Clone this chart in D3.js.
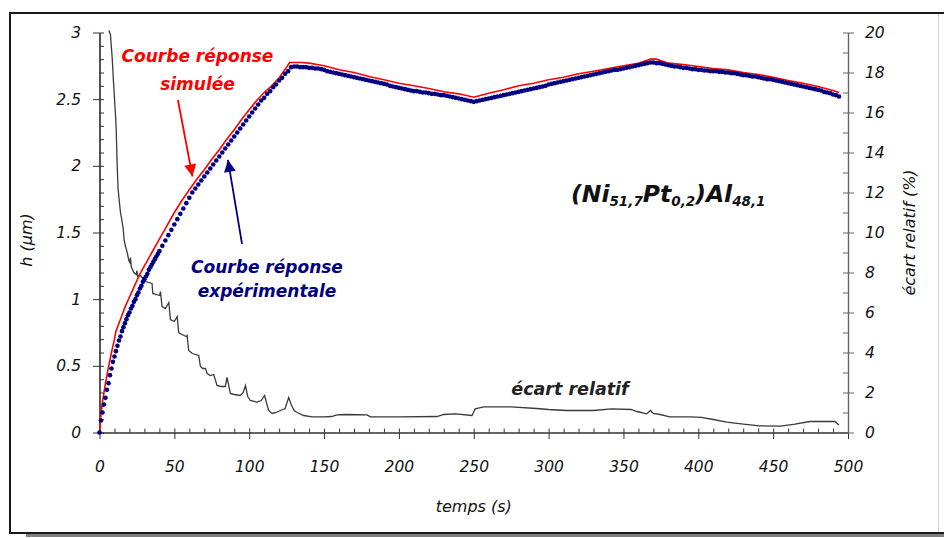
<!DOCTYPE html>
<html><head><meta charset="utf-8">
<script src="https://cdn.jsdelivr.net/npm/d3@7"></script>
<style>body{margin:0;background:#fff}svg{display:block}</style>
</head><body>
<svg id="chart" width="944" height="538"></svg>
<script>
// ---- Data ----
const expTime = [0,1,2,3,4,5,6,7,8,9,10,11,12,13,14,15,16,17,18,19,20,21,22,23,24,25,26,27,28,29,30,31,32,33,34,35,36,37,38,39,40,
42,44,46,48,50,52,54,56,58,60,62,64,66,68,70,72,74,76,78,80,82,84,86,88,90,92,94,96,98,
100,102,104,106,108,110,112,114,116,118,120,122,124,126,128,130,132,134,136,138,140,142,144,146,148,150,152,154,156,158,160,162,164,166,168,170,172,174,176,178,180,182,184,186,188,190,192,194,196,198,
200,202,204,206,208,210,212,214,216,218,220,222,224,226,228,230,232,234,236,238,240,242,244,246,248,250,252,254,256,258,260,262,264,266,268,270,272,274,276,278,280,282,284,286,288,290,292,294,296,298,
300,302,304,306,308,310,312,314,316,318,320,322,324,326,328,330,332,334,336,338,340,342,344,346,348,350,352,354,356,358,360,362,364,366,368,370,372,374,376,378,380,382,384,386,388,390,392,394,396,398,
400,402,404,406,408,410,412,414,416,418,420,422,424,426,428,430,432,434,436,438,440,442,444,446,448,450,452,454,456,458,460,462,464,466,468,470,472,474,476,478,480,482,484,486,488,490,492,494];
const expH = [0,0.09,0.15,0.21,0.26,0.32,0.37,0.43,0.48,0.53,0.57,0.61,0.65,0.69,0.72,0.76,0.79,0.82,0.85,0.88,0.90,0.93,0.95,0.98,1.00,1.03,1.05,1.08,1.10,1.13,1.15,1.17,1.19,1.22,1.24,1.26,1.28,1.30,1.32,1.34,1.36,
1.40,1.44,1.48,1.52,1.56,1.60,1.64,1.68,1.72,1.76,1.80,1.83,
1.86,1.89,1.92,1.95,1.98,2.01,2.04,2.07,2.10,2.13,2.16,2.19,2.22,2.25,2.28,2.31,2.34,2.37,
2.40,2.43,2.46,2.49,2.51,2.54,2.56,2.59,2.61,2.64,2.66,2.69,2.71,2.74,2.745,
2.745,2.74,2.74,2.74,2.735,2.735,2.73,2.73,2.725,2.72,2.71,2.705,2.70,2.695,2.69,2.685,2.68,2.675,2.67,2.665,
2.66,2.655,2.65,2.645,2.64,2.635,2.63,2.625,2.62,2.615,2.61,2.60,2.595,2.59,2.585,2.58,2.575,2.57,2.565,2.56,
2.56,2.555,2.55,2.55,2.545,2.54,2.54,2.535,2.53,2.53,2.525,2.52,2.515,2.51,2.505,2.50,2.495,2.49,2.485,2.48,
2.485,2.49,2.495,2.50,2.505,2.51,2.515,2.52,2.525,2.53,2.535,2.54,2.545,2.55,2.555,2.56,2.565,2.57,2.575,2.58,
2.585,2.59,2.595,2.60,2.61,2.615,2.62,2.625,2.63,2.635,2.64,2.645,2.65,2.655,2.66,2.665,2.67,2.675,2.68,2.685,
2.69,2.695,2.70,2.705,2.71,2.715,2.72,2.72,2.725,2.73,2.735,2.74,2.745,2.75,2.755,2.76,2.765,2.77,2.775,2.775,
2.77,2.77,2.765,2.76,2.755,2.75,2.745,2.745,2.74,2.735,2.735,2.73,2.725,2.725,2.72,2.72,2.715,2.715,2.71,2.71,
2.71,2.705,2.705,2.70,2.70,2.695,2.695,2.69,2.685,2.68,2.68,2.675,2.67,2.67,2.665,2.66,2.655,2.65,2.65,2.645,
2.64,2.635,2.63,2.625,2.62,2.615,2.61,2.605,2.60,2.595,2.59,2.585,2.58,2.575,2.57,2.565,2.555,2.55,2.545,2.535,2.53,2.52];

const simTime = [0,1,2,3,4,6,8,10,11,13,15,17,19,21,23,25,27,30,35,40,45,50,55,60,65,70,75,80,85,90,95,100,105,110,115,120,125,127,135,140,150,160,170,180,190,200,210,220,230,240,250,255,260,270,280,290,300,310,320,330,340,350,360,368,372,380,390,400,410,420,430,440,450,460,470,480,490,494];
const simH = [0,0.14,0.23,0.30,0.37,0.49,0.60,0.70,0.76,0.82,0.88,0.94,0.99,1.04,1.09,1.14,1.19,1.25,1.35,1.45,1.55,1.65,1.74,1.82,1.90,1.97,2.05,2.12,2.20,2.27,2.35,2.42,2.49,2.55,2.60,2.66,2.74,2.775,2.775,2.77,2.75,2.72,2.70,2.67,2.645,2.62,2.60,2.58,2.555,2.54,2.515,2.53,2.545,2.57,2.60,2.62,2.645,2.665,2.69,2.71,2.73,2.75,2.77,2.80,2.80,2.77,2.76,2.745,2.73,2.72,2.70,2.685,2.665,2.64,2.62,2.595,2.565,2.55];

const ecartTime = [6.3,7.3,8.5,9.3,10,10.6,11.1,11.5,11.8,12.4,13.2,14,15,15.8,16.5,17.4,18.5,19.6,20.3,20.7,21.2,22.9,24.5,25,25.5,27.4,29,30.7,33,35.1,35.6,38,40.2,40.7,41.8,44,46.3,47.4,50,51.9,52.9,55,58,58.5,59.6,62,66.3,67.4,69,70.8,71.9,74,76.3,78.5,81,84,85.2,87.4,90,94,96,97.5,99,100.8,105.3,108,110.3,111.5,113,115.3,118,120.8,124,125.5,126.4,128,130,132,136.4,142,149.7,155,158.6,165,178.7,181,200,225.4,230,237.7,248.8,251,256.6,275,292,300,312,330,342,355,359,365.6,368,370,374.5,381,395,402,410,419,430,441,455,464.6,474.6,491.3,494];
const ecartVal = [20.1,19.9,18.7,17.6,16.7,16.0,15.3,14.2,13.4,12.2,11.6,11.0,10.6,10.2,9.6,9.3,9.0,8.6,8.5,8.75,8.3,8.0,7.9,8.1,7.8,7.85,7.7,7.55,7.5,7.45,6.95,6.9,6.85,7.05,6.3,6.2,6.5,5.65,5.55,5.8,5.0,4.9,4.8,4.85,4.1,3.95,3.85,3.3,3.2,3.2,2.95,2.85,2.9,2.35,2.3,2.3,2.75,1.95,1.9,1.85,2.0,2.35,1.8,1.6,1.52,1.6,1.85,1.5,1.1,0.95,1.0,1.1,1.2,1.55,1.75,1.4,1.1,1.0,0.85,0.78,0.78,0.8,0.88,0.9,0.88,0.78,0.78,0.8,0.9,0.93,0.85,1.18,1.28,1.28,1.2,1.15,1.1,1.1,1.18,1.15,1.05,0.93,1.1,0.95,0.9,0.78,0.78,0.76,0.65,0.52,0.42,0.33,0.32,0.42,0.55,0.55,0.38];

const hTicks = [0,0.5,1,1.5,2,2.5,3];
const hTickLabels = ["0","0.5","1","1.5","2","2.5","3"];
const tTicks = [0,50,100,150,200,250,300,350,400,450,500];
const eTicks = [0,2,4,6,8,10,12,14,16,18,20];

// ---- Scales ----
const x = d3.scaleLinear().domain([0,500]).range([99.5,848]);
const yL = d3.scaleLinear().domain([0,3]).range([432.5,32.5]);
const yR = d3.scaleLinear().domain([0,20]).range([432.5,32.5]);

const svg = d3.select("#chart");
const FONT = "'DejaVu Sans', sans-serif";

// frame + shadow
svg.append("rect").attr("x",26).attr("y",29).attr("width",930).attr("height",508).attr("fill","#808080");
svg.append("rect").attr("x",10).attr("y",13).attr("width",940).attr("height",520)
  .attr("fill","#fff").attr("stroke","#1a1a1a").attr("stroke-width",2);
svg.append("line").attr("x1",938.5).attr("x2",938.5).attr("y1",14).attr("y2",532).attr("stroke","#d0d0d0").attr("stroke-width",1);

svg.append("clipPath").attr("id","plotclip").append("rect")
  .attr("x",x(0)-3).attr("y",28).attr("width",x(500)-x(0)+3).attr("height",408);

function styleAxis(g, col){
  g.selectAll("path.domain").attr("stroke",col).attr("stroke-width",1.2);
  g.selectAll(".tick line").attr("stroke",col).attr("stroke-width",1);
  g.selectAll("text").attr("font-family",FONT).attr("font-style","italic")
    .attr("font-size","15.5px").attr("fill","#111");
}

// left axis
const gL = svg.append("g").attr("transform",`translate(${x(0)},0)`);
gL.call(d3.axisLeft(yL).tickValues(hTicks).tickFormat((d,i)=>hTickLabels[i]).tickSize(6.5).tickSizeOuter(0).tickPadding(12));
gL.append("g").call(d3.axisLeft(yL).tickValues(d3.range(0,31).map(v=>v/10)).tickSize(-4.5).tickSizeOuter(0).tickFormat(""));
styleAxis(gL,"#333");

// bottom axis
const gB = svg.append("g").attr("transform",`translate(0,${yL(0)})`);
gB.call(d3.axisBottom(x).tickValues(tTicks).tickSize(6.5).tickSizeOuter(0).tickPadding(22));
gB.append("g").call(d3.axisBottom(x).tickValues(d3.range(0,51).map(v=>v*10)).tickSize(-4).tickSizeOuter(0).tickFormat(""));
styleAxis(gB,"#333");

// right axis
const gR = svg.append("g").attr("transform",`translate(${x(500)},0)`);
gR.call(d3.axisRight(yR).tickValues(eTicks).tickSize(6).tickSizeOuter(0).tickPadding(11));
gR.append("g").call(d3.axisRight(yR).tickValues(d3.range(0,21)).tickSize(-5).tickSizeOuter(0).tickFormat(""));
styleAxis(gR,"#666");

// axis titles
svg.append("text").attr("transform",`translate(32,240) rotate(-90)`)
  .attr("text-anchor","middle").attr("font-family",FONT).attr("font-style","italic").attr("font-size","16px").attr("fill","#111")
  .text("h (µm)");
svg.append("text").attr("x",(x(0)+x(500))/2).attr("y",512)
  .attr("text-anchor","middle").attr("font-family",FONT).attr("font-style","italic").attr("font-size","16px").attr("fill","#111")
  .text("temps (s)");
svg.append("text").attr("transform",`translate(915,${(yR(0)+yR(20))/2}) rotate(-90)`)
  .attr("text-anchor","middle").attr("font-family",FONT).attr("font-style","italic").attr("font-size","16px").attr("fill","#111")
  .text("écart relatif (%)");

// curves
const plot = svg.append("g").attr("clip-path","url(#plotclip)");
const ecart = ecartTime.map((t,i)=>[t,ecartVal[i]]);
const sim = simTime.map((t,i)=>[t,simH[i]]);
const exp = expTime.map((t,i)=>[t,expH[i]]).filter(d=>d[1]!==undefined);

plot.append("path").datum(ecart)
  .attr("d",d3.line().x(d=>x(d[0])).y(d=>yR(d[1])))
  .attr("fill","none").attr("stroke","#3a3a3a").attr("stroke-width",1.3);

plot.append("path").datum(sim)
  .attr("d",d3.line().x(d=>x(d[0])).y(d=>yL(d[1])))
  .attr("fill","none").attr("stroke","#ff0000").attr("stroke-width",1.6);

plot.selectAll("circle.exp").data(exp).join("circle").attr("class","exp")
  .attr("cx",d=>x(d[0])).attr("cy",d=>yL(d[1])).attr("r",2.3).attr("fill","#000080");

// arrows
const defs = svg.append("defs");
function marker(id,col){
  defs.append("marker").attr("id",id).attr("viewBox","0 0 12 12").attr("refX",12).attr("refY",6)
    .attr("markerWidth",13).attr("markerHeight",12).attr("markerUnits","userSpaceOnUse").attr("orient","auto")
    .append("path").attr("d","M0,0 L12,6 L0,12 Z").attr("fill",col);
}
marker("arR","#ff0000"); marker("arB","#000080");
svg.append("line").attr("x1",x(52.4)).attr("y1",yL(2.494)).attr("x2",x(62.1)).attr("y2",yL(1.92))
  .attr("stroke","#ff0000").attr("stroke-width",1.8).attr("marker-end","url(#arR)");
svg.append("line").attr("x1",x(95.2)).attr("y1",yL(1.414)).attr("x2",x(85.8)).attr("y2",yL(2.044))
  .attr("stroke","#000080").attr("stroke-width",1.8).attr("marker-end","url(#arB)");

// annotations
function label(txt,cx,cy,col,size){
  svg.append("text").attr("x",cx).attr("y",cy).attr("text-anchor","middle")
    .attr("font-family",FONT).attr("font-style","italic").attr("font-weight","bold")
    .attr("font-size",size).attr("fill",col).text(txt);
}
label("Courbe réponse",197.5,62,"#ff0000","17px");
label("simulée",197.5,90,"#ff0000","17px");
label("Courbe réponse",267,273,"#000080","17px");
label("expérimentale",267,297,"#000080","17px");
label("écart relatif",570,395,"#222","17.5px");

// compound title
const title = svg.append("text").attr("x",571).attr("y",202)
  .attr("font-family",FONT).attr("font-style","italic").attr("font-weight","bold")
  .attr("font-size","23.5px").attr("fill","#111");
const parts = [["(Ni",0],["51,7",1],["Pt",0],["0,2",1],[")Al",0],["48,1",1]];
parts.forEach(p=>{
  const ts = title.append("tspan").text(p[0]);
  if(p[1]){ ts.attr("font-size","13.5px").attr("baseline-shift","-4px"); }
});
</script>
</body></html>
